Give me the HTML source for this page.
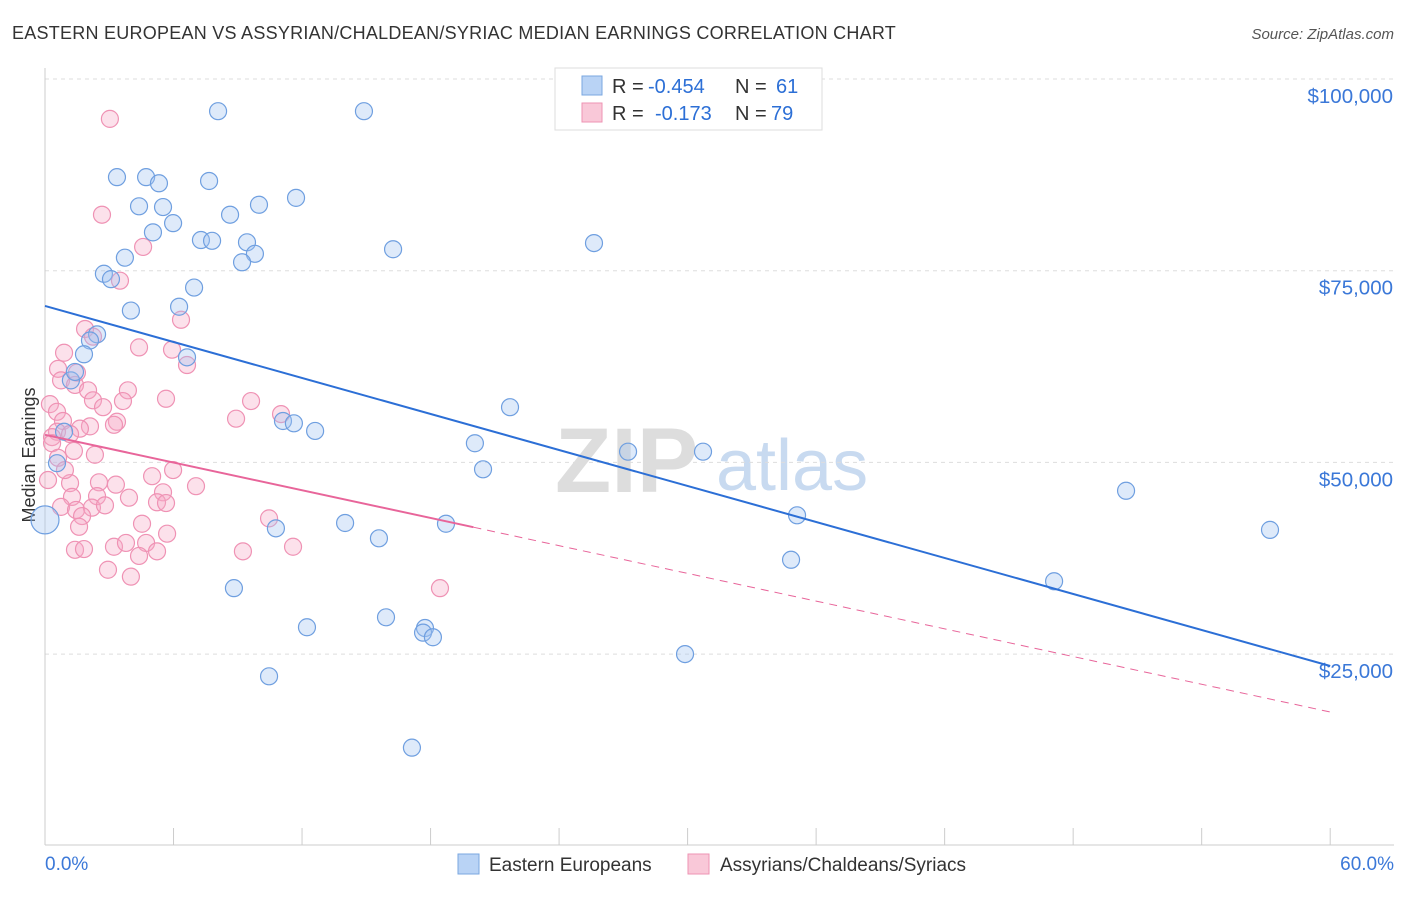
<!DOCTYPE html>
<html><head><meta charset="utf-8">
<style>
body{margin:0;background:#fff;font-family:"Liberation Sans",sans-serif;}
svg text{font-family:"Liberation Sans",sans-serif;}
</style></head>
<body>
<svg id="chart" width="1406" height="892" viewBox="0 0 1406 892" xmlns="http://www.w3.org/2000/svg">
<text x="12" y="39" font-size="18" letter-spacing="0.25" fill="#333">EASTERN EUROPEAN VS ASSYRIAN/CHALDEAN/SYRIAC MEDIAN EARNINGS CORRELATION CHART</text>
<text x="1394" y="39" font-size="15" fill="#555" font-style="italic" text-anchor="end">Source: ZipAtlas.com</text>
<text x="35" y="455" font-size="18" fill="#333" text-anchor="middle" transform="rotate(-90 35 455)">Median Earnings</text>
<g>
<text x="555" y="492" font-size="92" fill="#ddd" font-family="Liberation Serif" font-weight="bold">ZIP</text>
<text x="716" y="490" font-size="72" fill="#c8daf0">atlas</text>
</g>
<g id="grid"></g>
<g id="axes"></g>
<g id="pts"></g>
<g id="lines"></g>
<g>
<rect x="555" y="68" width="267" height="62" fill="#fff" stroke="#ddd"/>
<rect x="582" y="76" width="20" height="19" fill="#b9d3f5" stroke="#7aa7e0"/>
<text x="612" y="93" font-size="20" fill="#333">R =</text>
<text x="648" y="93" font-size="20" fill="#2c6fd6">-0.454</text>
<text x="735" y="93" font-size="20" fill="#333">N =</text>
<text x="776" y="93" font-size="20" fill="#2c6fd6">61</text>
<rect x="582" y="103" width="20" height="19" fill="#f9c8d8" stroke="#ee93b3"/>
<text x="612" y="120" font-size="20" fill="#333">R =</text>
<text x="655" y="120" font-size="20" fill="#2c6fd6">-0.173</text>
<text x="735" y="120" font-size="20" fill="#333">N =</text>
<text x="771" y="120" font-size="20" fill="#2c6fd6">79</text>
</g>
<g>
<rect x="458" y="854" width="21" height="20" fill="#b9d3f5" stroke="#7aa7e0"/>
<text x="489" y="871" font-size="19" fill="#333">Eastern Europeans</text>
<rect x="688" y="854" width="21" height="20" fill="#f9c8d8" stroke="#ee93b3"/>
<text x="720" y="871" font-size="19" fill="#333">Assyrians/Chaldeans/Syriacs</text>
</g>
</svg>
<script>
const blueX=[8.08,14.89,3.36,4.72,5.32,7.66,11.72,4.39,5.51,9.99,8.64,5.98,5.04,7.28,7.80,9.43,9.80,9.20,16.25,25.63,3.73,2.75,3.08,6.96,4.01,6.26,2.43,2.10,1.82,6.63,1.21,1.40,21.71,11.11,11.62,12.61,0.89,20.07,27.22,30.72,20.45,0.56,50.47,35.11,14.01,10.78,18.72,57.19,15.59,0,34.83,47.11,8.82,15.92,12.23,17.74,17.65,18.11,29.88,10.46,17.13];
const blueY=[95.8,95.8,87.2,87.2,86.4,86.7,84.5,83.4,83.3,83.6,82.3,81.2,80.0,79.0,78.9,78.7,77.2,76.1,77.8,78.6,76.7,74.6,73.9,72.8,69.8,70.3,66.7,65.9,64.1,63.7,60.7,61.8,57.2,55.4,55.1,54.1,54.0,52.5,51.4,51.4,49.1,49.9,46.3,43.1,42.1,41.4,42.0,41.2,40.1,42.5,37.3,34.5,33.6,29.8,28.5,28.4,27.8,27.2,25.0,22.1,12.8];
const pinkX=[3.03,2.66,4.58,3.50,6.35,1.87,2.24,4.39,5.93,0.89,6.63,0.61,1.49,0.75,1.40,2.01,3.87,5.65,3.64,2.24,9.62,0.23,2.71,0.56,8.92,11.02,3.36,0.84,3.22,2.10,1.63,0.56,1.17,0.33,0.33,1.35,2.33,0.61,5.98,5.00,3.31,2.52,1.17,7.05,5.51,1.26,2.43,3.92,5.23,5.65,0.75,1.45,2.19,2.80,1.73,10.46,4.53,1.59,3.22,3.78,4.72,5.70,5.23,9.24,11.58,1.40,1.82,4.39,2.94,4.01,18.44,0.14,0.93];
const pinkY=[94.8,82.3,78.1,73.7,68.6,67.4,66.4,65.0,64.7,64.3,62.7,62.2,61.7,60.7,60.1,59.4,59.4,58.3,58.0,58.1,58.0,57.6,57.2,56.6,55.7,56.3,55.3,55.4,54.9,54.7,54.4,54.0,53.7,53.3,52.5,51.5,51.0,50.6,49.0,48.2,47.1,47.4,47.3,46.9,46.1,45.5,45.6,45.4,44.8,44.7,44.2,43.8,44.1,44.4,43.0,42.7,42.0,41.6,39.0,39.5,39.5,40.7,38.4,38.4,39.0,38.6,38.7,37.8,36.0,35.1,33.6,47.7,49.0];
const yTicks=[100,75,50,25];
const yTickLabels=["$100,000","$75,000","$50,000","$25,000"];
const xTicks=[0,6,12,18,24,30,36,42,48,54,60];
const blueTrend=[70.4,23.45];
const pinkTrend=[53.6,17.45];
const pinkSolidEnd=20;

const NS="http://www.w3.org/2000/svg";
const X=v=>45+v*21.42;
const Y=v=>79+(100-v)*7.668;
function mk(tag,attrs,parent){const e=document.createElementNS(NS,tag);for(const k in attrs)e.setAttribute(k,attrs[k]);parent.appendChild(e);return e;}
const grid=document.getElementById('grid'),axes=document.getElementById('axes'),pts=document.getElementById('pts'),lines=document.getElementById('lines');
yTicks.forEach((t,i)=>{
 const l=mk('line',{x1:45,x2:1394,y1:Y(t),y2:Y(t),stroke:'#ddd','stroke-dasharray':'4 4'},grid);
 
 
 const tx=mk('text',{x:1393,y:Y(t)+24,'font-size':20.5,fill:'#3b78d8','text-anchor':'end'},axes);
 tx.textContent=yTickLabels[i];
 
 
});
const ax=mk('line',{x1:45,x2:1394,y1:845,y2:845,stroke:'#ccc'},axes);


const ay=mk('line',{x1:45,x2:45,y1:68,y2:845,stroke:'#ccc'},axes);


xTicks.forEach(t=>{
 const l=mk('line',{x1:X(t),x2:X(t),y1:828,y2:845,stroke:'#ccc'},axes);
 
 
});
const xl0=mk('text',{x:45,y:870,'font-size':19,fill:'#3b78d8'},axes);xl0.textContent='0.0%';


const xl1=mk('text',{x:1394,y:870,'font-size':19,fill:'#3b78d8','text-anchor':'end'},axes);xl1.textContent='60.0%';


pinkX.forEach((v,i)=>{
 const c=mk('circle',{cx:X(v),cy:Y(pinkY[i]),r:8.5,fill:'rgba(246,170,198,0.35)',stroke:'#ef92b4','stroke-width':1.2},pts);
 
 
});
blueX.forEach((v,i)=>{
 const c=mk('circle',{cx:X(v),cy:Y(blueY[i]),r:v===0?14:8.5,fill:'rgba(160,196,240,0.35)',stroke:'#6f9fe0','stroke-width':1.2},pts);
 
 
});
const py=x=>pinkTrend[0]+(pinkTrend[1]-pinkTrend[0])*x/60;
const bl=mk('line',{x1:X(0),y1:Y(blueTrend[0]),x2:X(60),y2:Y(blueTrend[1]),stroke:'#2c6fd6','stroke-width':2},lines);


const pl=mk('line',{x1:X(0),y1:Y(py(0)),x2:X(pinkSolidEnd),y2:Y(py(pinkSolidEnd)),stroke:'#e8659a','stroke-width':2},lines);


const pd=mk('line',{x1:X(pinkSolidEnd),y1:Y(py(pinkSolidEnd)),x2:X(60),y2:Y(py(60)),stroke:'#e8659a','stroke-width':1,'stroke-dasharray':'8 6'},lines);


</script>
</body></html>
